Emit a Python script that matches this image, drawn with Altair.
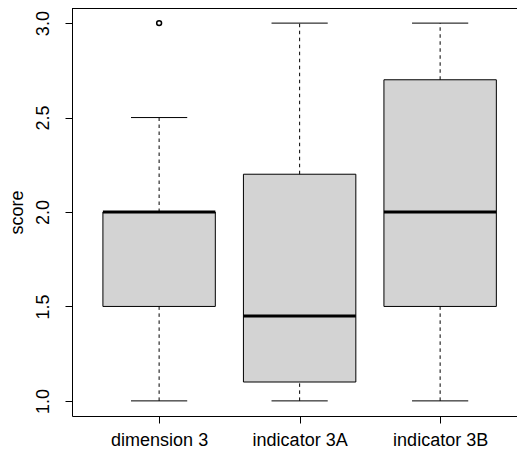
import altair as alt
import pandas as pd

categories = ["dimension 3", "indicator 3A", "indicator 3B"]
lower = [1.0, 1.0, 1.0]
q1 = [1.5, 1.1, 1.5]
median = [2.0, 1.45, 2.0]
q3 = [2.0, 2.2, 2.7]
upper = [2.5, 3.0, 3.0]
outlier_cat = ["dimension 3"]
outlier_val = [3.0]
y_ticks = [1.0, 1.5, 2.0, 2.5, 3.0]

FONT = "Liberation Sans"
FS = 18
W, H = 445, 408

df = pd.DataFrame({
    "cat": categories, "lower": lower, "q1": q1, "median": median,
    "q3": q3, "upper": upper, "pos": list(range(1, len(categories) + 1)),
})
df_out = pd.DataFrame({
    "cat": outlier_cat, "val": outlier_val,
    "pos": [categories.index(c) + 1 for c in outlier_cat],
})

label_expr = " : ".join(
    f"datum.value == {i + 1} ? '{c}'" for i, c in enumerate(categories[:-1])
) + f" : '{categories[-1]}'"

xscale = alt.Scale(domain=[0.38, 3.547], nice=False, zero=False)
yscale = alt.Scale(domain=[0.92, 3.08], nice=False, zero=False)

xaxis = alt.Axis(values=list(range(1, len(categories) + 1)), labelExpr=label_expr,
                 title=None, tickSize=7, labelPadding=8, labelFontSize=FS,
                 labelFont=FONT, labelBaseline="top", labelAlign="center", grid=False)
yaxis = alt.Axis(values=y_ticks, format=".1f", title="score", tickSize=7,
                 labelPadding=17, labelFontSize=FS, labelFont=FONT, labelAngle=270,
                 labelAlign="center", labelBaseline="alphabetic", grid=False,
                 titleFont=FONT, titleFontSize=FS, titleFontWeight="normal",
                 titleAngle=270, titleX=-50, titleY=204, titleAlign="center",
                 titleBaseline="alphabetic")

base = alt.Chart(df).transform_calculate(
    left="datum.pos - 0.4", right="datum.pos + 0.4",
    capl="datum.pos - 0.2", capr="datum.pos + 0.2",
)

boxes = base.mark_bar(fill="#D3D3D3", stroke="black", strokeWidth=1).encode(
    x=alt.X("left:Q", scale=xscale, axis=xaxis),
    x2="right:Q",
    y=alt.Y("q1:Q", scale=yscale, axis=yaxis),
    y2="q3:Q",
)
med = base.mark_rule(color="black", strokeWidth=3).encode(
    x=alt.X("left:Q", scale=xscale), x2="right:Q",
    y=alt.Y("median:Q", scale=yscale),
)
whisk_up = base.mark_rule(color="black", strokeWidth=1, strokeDash=[3.5, 3.5]).encode(
    x=alt.X("pos:Q", scale=xscale), y=alt.Y("q3:Q", scale=yscale), y2="upper:Q",
)
whisk_lo = base.mark_rule(color="black", strokeWidth=1, strokeDash=[3.5, 3.5]).encode(
    x=alt.X("pos:Q", scale=xscale), y=alt.Y("lower:Q", scale=yscale), y2="q1:Q",
)
cap_up = base.mark_rule(color="black", strokeWidth=1).encode(
    x=alt.X("capl:Q", scale=xscale), x2="capr:Q", y=alt.Y("upper:Q", scale=yscale),
)
cap_lo = base.mark_rule(color="black", strokeWidth=1).encode(
    x=alt.X("capl:Q", scale=xscale), x2="capr:Q", y=alt.Y("lower:Q", scale=yscale),
)
outl = alt.Chart(df_out).mark_point(shape="circle", filled=False, color="black",
                                    size=24, strokeWidth=1.5, opacity=1).encode(
    x=alt.X("pos:Q", scale=xscale), y=alt.Y("val:Q", scale=yscale),
)
top = alt.Chart(df).mark_rule(color="black", strokeWidth=1).encode(
    x=alt.value(0), x2=alt.value(W), y=alt.value(0.5),
)

chart = alt.layer(boxes, whisk_up, whisk_lo, cap_up, cap_lo, med, outl, top).properties(
    width=W, height=H,
    autosize=alt.AutoSizeParams(type="none"),
    padding={"left": 64, "top": 0, "right": 0, "bottom": 42},
).configure_view(stroke=None).configure_axis(
    domainColor="black", tickColor="black", labelColor="black", titleColor="black",
    domainWidth=1, tickWidth=1,
)

chart.save("out.html", embed_options={"renderer": "svg", "actions": False})
